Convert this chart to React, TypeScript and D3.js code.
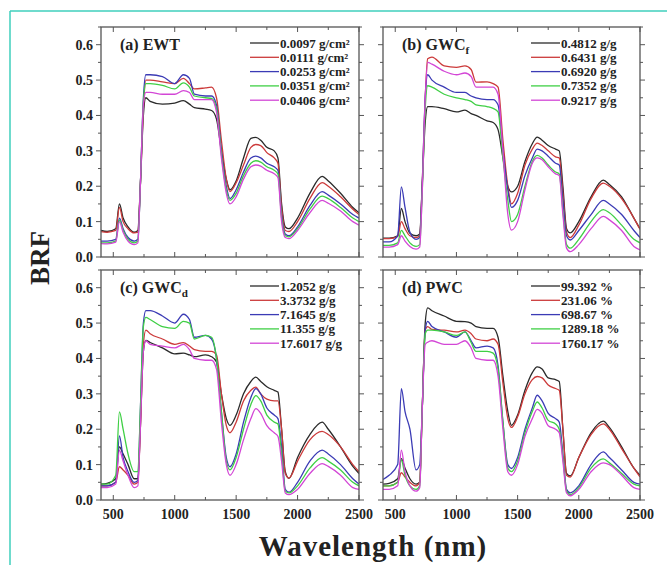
import React from "react";
import * as d3 from "d3";

// shared wavelength grid (nm)
const wavelengths = [400, 450, 520, 550, 580, 620, 670, 700, 720, 745, 765, 800, 900, 1000, 1070, 1120, 1160, 1250, 1300, 1340, 1380, 1420, 1450, 1500, 1560, 1620, 1660, 1700, 1750, 1810, 1840, 1870, 1900, 1930, 2000, 2100, 2200, 2250, 2350, 2450, 2500];

const xTicks = [500, 1000, 1500, 2000, 2500];
const yTicks = [0, 0.1, 0.2, 0.3, 0.4, 0.5, 0.6];
const colors = ["#2a2a2a", "#cc3a3a", "#3b3bb5", "#3fcf45", "#d346d6"];

// (a) EWT
const ewtLabels = ["0.0097 g/cm²", "0.0111 g/cm²", "0.0253 g/cm²", "0.0351 g/cm²", "0.0406 g/cm²"];
const ewt0 = [.075, .072, .08, .15, .11, .085, .07, .075, .2, .4, .45, .44, .432, .435, .442, .432, .422, .418, .414, .39, .3, .22, .19, .215, .28, .335, .338, .33, .31, .3, .28, .15, .085, .08, .11, .18, .228, .215, .18, .14, .125];
const ewt1 = [.072, .07, .075, .14, .1, .08, .068, .07, .2, .42, .5, .5, .495, .49, .505, .49, .475, .478, .48, .45, .33, .22, .185, .21, .26, .31, .318, .315, .295, .28, .265, .14, .075, .072, .1, .165, .21, .2, .17, .135, .12];
const ewt2 = [.045, .045, .05, .11, .08, .055, .045, .05, .2, .45, .515, .515, .51, .49, .515, .505, .46, .455, .455, .43, .3, .2, .165, .19, .24, .28, .285, .28, .265, .255, .245, .12, .065, .06, .085, .145, .185, .175, .15, .12, .11];
const ewt3 = [.04, .04, .045, .105, .075, .05, .04, .045, .2, .44, .49, .49, .485, .475, .492, .48, .455, .45, .448, .42, .29, .19, .16, .18, .23, .265, .272, .268, .255, .245, .235, .11, .06, .057, .08, .135, .172, .165, .14, .11, .1];
const ewt4 = [.038, .037, .042, .1, .07, .045, .035, .04, .2, .43, .465, .465, .46, .46, .47, .465, .445, .445, .445, .41, .28, .18, .15, .17, .22, .255, .26, .257, .245, .235, .225, .1, .055, .052, .075, .125, .16, .152, .13, .1, .09];

// (b) GWCf
const gwcfLabels = ["0.4812 g/g", "0.6431 g/g", "0.6920 g/g", "0.7352 g/g", "0.9217 g/g"];
const gwcf0 = [.053, .053, .06, .137, .1, .067, .06, .065, .2, .38, .425, .425, .419, .41, .415, .405, .4, .385, .38, .36, .28, .2, .184, .2, .27, .32, .339, .33, .315, .305, .3, .2, .08, .068, .1, .17, .217, .205, .17, .11, .08];
const gwcf1 = [.052, .052, .058, .1, .08, .06, .055, .06, .2, .45, .56, .565, .54, .536, .54, .53, .494, .495, .49, .48, .33, .2, .15, .18, .26, .305, .322, .315, .3, .283, .28, .18, .07, .055, .09, .165, .209, .2, .165, .11, .078];
const gwcf2 = [.043, .043, .06, .198, .14, .07, .05, .055, .2, .45, .515, .5, .48, .465, .465, .455, .45, .445, .445, .43, .3, .19, .14, .16, .23, .28, .305, .3, .285, .265, .26, .16, .06, .048, .075, .12, .16, .15, .12, .075, .055];
const gwcf3 = [.033, .033, .04, .075, .06, .04, .03, .035, .18, .42, .484, .48, .46, .45, .445, .44, .43, .425, .42, .41, .28, .16, .1, .12, .2, .27, .287, .28, .26, .24, .235, .13, .035, .025, .05, .1, .134, .125, .09, .05, .04];
const gwcf4 = [.028, .028, .035, .06, .045, .03, .022, .028, .18, .45, .55, .545, .525, .515, .52, .51, .48, .48, .48, .46, .3, .12, .076, .1, .19, .265, .28, .275, .255, .235, .23, .12, .025, .015, .035, .08, .115, .105, .075, .03, .02];

// (c) GWCd
const gwcdLabels = ["1.2052 g/g", "3.3732 g/g", "7.1645 g/g", "11.355 g/g", "17.6017 g/g"];
const gwcd0 = [.045, .047, .06, .15, .13, .1, .06, .06, .2, .42, .451, .445, .43, .413, .415, .41, .405, .41, .405, .39, .3, .23, .211, .24, .3, .335, .347, .335, .32, .31, .305, .2, .08, .061, .12, .185, .22, .2, .15, .095, .075];
const gwcd1 = [.04, .04, .05, .094, .085, .07, .045, .05, .2, .44, .48, .47, .455, .44, .445, .435, .425, .42, .42, .41, .3, .21, .19, .22, .28, .31, .319, .3, .285, .28, .28, .2, .075, .062, .11, .17, .194, .185, .15, .1, .08];
const gwcd2 = [.04, .04, .05, .181, .12, .08, .05, .055, .25, .5, .535, .535, .52, .5, .525, .51, .46, .465, .455, .4, .25, .12, .094, .13, .22, .29, .315, .3, .26, .24, .23, .15, .03, .022, .05, .11, .141, .13, .1, .06, .045];
const gwcd3 = [.045, .045, .07, .249, .2, .13, .08, .08, .25, .49, .516, .51, .49, .485, .505, .5, .455, .465, .46, .4, .25, .11, .085, .12, .2, .27, .295, .28, .24, .22, .215, .13, .025, .02, .04, .09, .12, .11, .085, .05, .04];
const gwcd4 = [.035, .035, .045, .14, .11, .07, .035, .04, .2, .42, .45, .44, .435, .43, .44, .425, .4, .395, .395, .37, .22, .1, .07, .1, .17, .23, .258, .245, .21, .19, .18, .11, .02, .015, .03, .075, .103, .095, .07, .035, .03];

// (d) PWC
const pwcLabels = ["99.392 %", "231.06 %", "698.67 %", "1289.18 %", "1760.17 %"];
const pwc0 = [.045, .047, .06, .117, .09, .06, .045, .05, .25, .5, .543, .535, .52, .505, .504, .5, .49, .485, .485, .46, .35, .25, .211, .24, .31, .36, .376, .37, .345, .34, .335, .2, .075, .068, .12, .19, .223, .205, .15, .09, .07];
const pwc1 = [.04, .04, .05, .077, .065, .05, .04, .05, .25, .48, .49, .482, .48, .475, .48, .47, .455, .45, .455, .44, .33, .23, .205, .235, .3, .34, .349, .345, .325, .315, .31, .2, .07, .065, .12, .185, .215, .2, .145, .09, .065];
const pwc2 = [.058, .07, .1, .315, .25, .2, .085, .1, .25, .48, .505, .49, .475, .46, .475, .45, .43, .435, .43, .38, .22, .1, .089, .12, .2, .26, .296, .28, .245, .23, .22, .13, .03, .02, .04, .1, .136, .12, .085, .05, .045];
const pwc3 = [.04, .04, .05, .113, .07, .04, .03, .04, .25, .47, .48, .48, .475, .465, .475, .445, .42, .42, .415, .37, .22, .09, .08, .11, .19, .25, .277, .26, .225, .215, .2, .12, .025, .015, .035, .09, .116, .105, .075, .045, .04];
const pwc4 = [.03, .03, .04, .141, .08, .04, .025, .035, .25, .44, .446, .45, .44, .44, .45, .43, .4, .395, .395, .35, .2, .08, .07, .1, .18, .23, .256, .245, .21, .2, .19, .11, .02, .012, .03, .08, .105, .1, .07, .035, .03];

const panels = [
  { title: "(a) EWT", sub: "", labels: ewtLabels, series: [ewt0, ewt1, ewt2, ewt3, ewt4], col: 0, row: 0 },
  { title: "(b) GWC", sub: "f", labels: gwcfLabels, series: [gwcf0, gwcf1, gwcf2, gwcf3, gwcf4], col: 1, row: 0 },
  { title: "(c) GWC", sub: "d", labels: gwcdLabels, series: [gwcd0, gwcd1, gwcd2, gwcd3, gwcd4], col: 0, row: 1 },
  { title: "(d) PWC", sub: "", labels: pwcLabels, series: [pwc0, pwc1, pwc2, pwc3, pwc4], col: 1, row: 1 },
];

const FONT = "'Liberation Serif', 'DejaVu Serif', serif";
const colX = [[101, 359], [383, 640]];
const rowY = [[27, 257], [270, 500]];

function Panel({ p }: { p: typeof panels[number] }) {
  const [x0, x1] = colX[p.col];
  const [y0, y1] = rowY[p.row];
  const x = d3.scaleLinear().domain([400, 2500]).range([x0, x1]);
  const y = d3.scaleLinear().domain([0, 0.65]).range([y1, y0]);
  const line = d3
    .line<number>()
    .x((_, i) => x(wavelengths[i]))
    .y((d) => y(d))
    .curve(d3.curveMonotoneX);
  const minorX = d3.range(500, 2501, 250);
  const minorY = d3.range(0, 0.651, 0.05);
  const axisColor = "#555";
  const clipId = `clip-${p.col}-${p.row}`;
  const legX = x1 - 109;
  const legY = y0 + 16;

  return (
    <g>
      <defs>
        <clipPath id={clipId}>
          <rect x={x0} y={y0} width={x1 - x0} height={y1 - y0} />
        </clipPath>
      </defs>
      <g clipPath={`url(#${clipId})`}>
        {p.series.map((s, i) => (
          <path key={i} d={line(s) || ""} fill="none" stroke={colors[i]} strokeWidth={1.3} strokeLinejoin="round" />
        ))}
      </g>
      <rect x={x0} y={y0} width={x1 - x0} height={y1 - y0} fill="none" stroke={axisColor} strokeWidth={1.3} />
      {minorX.map((t) => {
        const major = t % 500 === 0;
        const len = major ? 5 : 3;
        return (
          <g key={t} stroke={axisColor} strokeWidth={1}>
            <line x1={x(t)} x2={x(t)} y1={y1} y2={y1 - len} />
            <line x1={x(t)} x2={x(t)} y1={y0} y2={y0 + len} />
          </g>
        );
      })}
      {minorY.map((t, i) => {
        const major = i % 2 === 0;
        const len = major ? 5 : 3;
        return (
          <g key={i} stroke={axisColor} strokeWidth={1}>
            <line x1={x0} x2={x0 - len} y1={y(t)} y2={y(t)} />
            <line x1={x1} x2={x1 + len} y1={y(t)} y2={y(t)} />
          </g>
        );
      })}
      {p.col === 0 &&
        yTicks.map((t) => (
          <text key={t} x={x0 - 8} y={y(t)} dy="0.35em" textAnchor="end" fontFamily={FONT} fontWeight="bold" fontSize={14} fill="#222">
            {t.toFixed(1)}
          </text>
        ))}
      {p.row === 1 &&
        xTicks.map((t) => (
          <text key={t} x={x(t)} y={y1 + 19} textAnchor="middle" fontFamily={FONT} fontWeight="bold" fontSize={14} fill="#222">
            {t}
          </text>
        ))}
      <text x={x0 + 19} y={y0 + 23} fontFamily={FONT} fontWeight="bold" fontSize={16} fill="#222">
        {p.title}
        {p.sub && (
          <tspan fontSize={11} dy={4}>
            {p.sub}
          </tspan>
        )}
      </text>
      {p.labels.map((lab, i) => (
        <g key={lab}>
          <line x1={legX} x2={legX + 29} y1={legY + i * 14.3} y2={legY + i * 14.3} stroke={colors[i]} strokeWidth={1.3} />
          <text x={legX + 30} y={legY + i * 14.3} dy="0.35em" fontFamily={FONT} fontWeight="bold" fontSize={13} fill="#222">
            {lab}
          </text>
        </g>
      ))}
    </g>
  );
}

export default function App() {
  return (
    <svg width={667} height={565} style={{ position: "absolute", left: 0, top: 0, background: "#fff" }}>
      <rect x={0} y={0} width={667} height={565} fill="#fff" />
      <line x1={10} x2={667} y1={11} y2={11} stroke="#3fcfbd" strokeWidth={1.5} />
      <line x1={10} x2={10} y1={11} y2={565} stroke="#3fcfbd" strokeWidth={1.5} />
      {panels.map((p) => (
        <Panel key={p.title + p.sub} p={p} />
      ))}
      <text x={40} y={258} transform="rotate(-90 40 258)" dy="0.35em" textAnchor="middle" fontFamily={FONT} fontWeight="bold" fontSize={27} fill="#222">
        BRF
      </text>
      <text x={373} y={556} textAnchor="middle" fontFamily={FONT} fontWeight="bold" fontSize={29} fill="#222" letterSpacing={1}>
        Wavelength (nm)
      </text>
    </svg>
  );
}
